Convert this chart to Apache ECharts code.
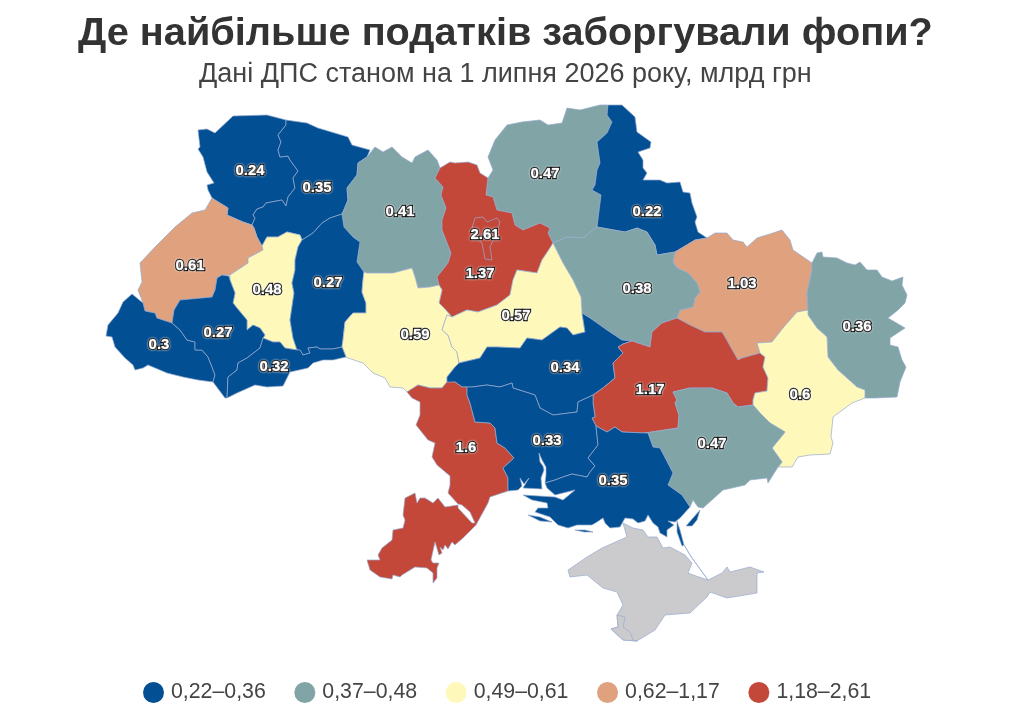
<!DOCTYPE html>
<html><head><meta charset="utf-8">
<style>html,body{margin:0;padding:0;background:#fff}#c{width:1021px;height:713px}</style>
<script src="https://cdn.jsdelivr.net/npm/echarts@6/dist/echarts.min.js"></script>
</head><body><div id="c"></div>
<script>
// ---- data ----
const titleText = 'Де найбільше податків заборгували фопи?';
const subtitleText = 'Дані ДПС станом на 1 липня 2026 року, млрд грн';
const regionNames = ['Волинська','Рівненська','Житомирська','Чернігівська','Сумська','Львівська','Тернопільська','Хмельницька','Київська','Харківська','Полтавська','Луганська','Закарпатська','Івано-Франківська','Вінницька','Черкаська','Чернівецька','Кіровоградська','Дніпропетровська','Донецька','Одеська','Миколаївська','Запорізька','Херсонська','Київ'];
// printed to two decimals; the third decimal is inferred from the colour class the region carries
const regionValues = [0.24,0.35,0.41,0.47,0.22,0.614,0.484,0.27,1.37,1.03,0.38,0.364,0.3,0.27,0.59,0.57,0.32,0.34,1.174,0.6,1.6,0.33,0.47,0.35,2.61];
const legendLabels = ['0,22–0,36','0,37–0,48','0,49–0,61','0,62–1,17','1,18–2,61'];
const legendHigh = [0.36,0.48,0.61,1.17,2.61];
const legendColors = ['#034f93','#81a4a6','#fef9bb','#e0a17e','#c4483a'];

// ---- map outline, traced as a base map (shared borders) ----
const arcs = {
volN:'286,120 267,115 233,116 215,133 207,129 198,130 200,147 198,149 203,157 207,172 214,183 207,185 208,190 212,198',
volRiv:'286,120 286,125 278,135 281,142 278,150 280,157 288,156 290,160 298,171 293,178 295,188 288,197 286,206 282,200 266,203 263,207 257,209 253,215 255,218 252,225',
volLviv:'212,198 215,200 228,208 227,215 243,222 252,225',
rivN:'286,120 307,123 318,128 348,137 352,145 370,150 367,157',
rivZhy:'367,157 358,163 357,175 347,188 348,200 343,212 342,214',
rivKhm:'342,214 330,218 322,223 313,233 302,240',
rivTer:'302,240 300,235 287,232 278,237 267,237 262,246',
rivLviv:'262,246 257,237 254,228 252,225',
lvivTer:'262,246 263,250 248,258 248,263 230,275 229,276',
lvivFr:'229,276 222,275 217,278 215,290 212,297 180,300 174,310 172,323',
lvivZak:'172,323 157,318 155,313 145,311 143,303',
lvivW:'143,303 138,290 142,282 140,263 155,247 175,227 192,213 205,210 212,198',
zakS:'143,303 132,294 123,302 118,313 108,325 106,336 112,337 115,347 125,358 133,365 135,370 143,368 148,365 167,373 183,377 198,380 213,382',
zakFr:'172,323 180,330 187,340 195,342 195,350 202,350 208,357 212,367 215,375 213,382',
terFr:'229,276 230,280 235,293 233,303 237,308 247,320 247,330 253,325 260,328 265,335 263,338',
frChe:'263,338 260,348 247,358 238,363 237,370 228,377 227,398',
frS:'227,398 225,398 213,382',
terChe:'263,338 273,342 280,342 285,348 297,350',
terKhm:'297,350 293,338 290,320 294,293 292,283 295,270 295,260 298,247 302,240',
cvKhm:'297,350 300,350 303,355 310,353 308,348 317,347 320,349 333,349 342,347',
cvVin:'342,347 346,357',
cvS:'346,357 333,360 323,360 313,363 308,368 290,372 283,386 267,387 255,385 237,393 227,398',
khmVin:'342,347 343,340 345,322 353,313 366,313 366,303 362,292 363,280 364,272',
khmZhy:'364,272 357,262 360,242 353,237 344,227 342,214',
zhyN:'367,157 375,147 383,152 392,147 402,157 412,163 415,157 428,150 437,160 440,168',
zhyKyiv:'440,168 435,178 443,187 441,195 446,208 442,220 442,230 451,253 448,263 437,277 439,285',
zhyVin:'439,285 430,287 418,288 415,277 412,268 393,273 367,273 364,272',
kyivN:'440,168 450,162 455,163 468,162 477,165 480,173 488,178',
kyivChn:'488,178 486,195 493,197 497,210 512,213 515,225 523,230 540,223 550,228 548,233 553,243',
kyivCk:'553,243 550,248 542,260 537,273 517,270 513,280 510,295 497,305 478,312 467,310 452,317',
kyivVin:'452,317 443,307 439,303 442,290 439,285',
chnN:'488,178 493,170 488,157 495,140 507,125 522,122 540,120 548,125 562,123 567,108 580,110 600,105 608,105',
chnSum:'608,105 607,115 612,122 607,133 597,142 600,163 597,170 595,185 592,190 601,195 597,227',
chnPol:'597,227 583,238 567,237 553,243',
sumN:'608,105 622,105 635,117 637,132 651,142 650,148 638,152 643,160 643,168 647,173 643,180 660,180 667,183 680,182 683,192 690,193 692,203 697,217 695,222 698,232 707,238',
sumKha:'707,238 695,240 675,252',
sumPol:'675,252 657,255 655,245 647,232 637,228 625,232 597,227',
khaN:'707,238 715,233 727,233 733,240 743,242 747,247 757,238 773,233 782,230 790,240 793,250 812,263',
khaLuh:'812,263 812,270 807,293 808,310',
khaDon:'808,310 797,312 783,328 772,342 757,343 760,353',
khaDnp:'760,353 742,358 738,360 725,337 722,332 705,332 690,325 677,318',
khaPol:'677,318 680,310 693,307 695,298 700,292 697,283 688,273 677,268 673,262 675,252',
luhE:'812,263 817,253 822,252 823,257 837,258 847,263 855,265 860,262 867,270 877,270 882,277 892,281 903,277 902,285 907,295 905,303 898,310 888,318 905,328 890,338 890,345 898,347 902,360 906,367 900,382 897,397 875,398 865,398',
luhDon:'865,398 865,390 857,387 838,370 828,357 827,337 817,328 808,315 808,310',
donS:'865,398 852,403 833,417 831,437 833,443 830,454 810,455 798,457 792,467 778,467',
donZap:'778,467 782,462 772,448 785,432 770,423 760,413 753,405',
donDnp:'753,405 753,400 755,393 767,391 768,378 763,367 765,357 760,353',
dnpZap:'753,405 738,407 733,403 727,393 712,388 690,388 673,392 677,400 675,403 679,415 678,428 645,433',
dnpKhe:'645,433 622,432 615,427 607,432 596,426',
dnpMyk:'596,426 592,418 595,417 593,403 593,395',
dnpKir:'593,395 603,388 615,378 613,363 623,353 618,347 623,344 632,341',
dnpPol:'632,341 650,347 652,332 662,323 677,318',
polKir:'632,341 622,340 607,330 590,318 582,313',
polCk:'582,313 581,297 573,280 563,263 553,243',
ckKir:'582,313 585,332 573,335 567,328 560,327 542,340 527,338 520,348 497,347 487,347 480,358 459,363',
ckVin:'459,363 457,352 452,347 448,335 442,330 447,315 452,317',
vinKir:'459,363 455,367 447,377 447,382',
vinOd:'447,382 442,388 430,388 418,385 407,392',
vinS:'407,392 403,388 390,387 385,378 373,373 363,363 348,358 346,357',
kirMyk:'593,395 578,402 577,412 553,415 540,408 535,395 513,388 512,383 500,387 487,385 472,387 467,387',
kirOd:'467,387 462,387 455,382 447,383 447,382',
odMyk:'467,387 467,395 470,403 475,422 490,423 495,428 497,443 505,448 514,458 503,468 508,478 508,491',
odW:'407,392 412,398 420,402 420,415 416,425 428,440 435,443 432,457 437,465 450,476 450,485 448,493 458,504 462,505 470,512 475,523 472,523 458,508 458,505 445,507 438,498 433,503 425,498 420,498 417,503 415,493 405,498 403,515 405,520 403,528 393,530 392,540 382,548 378,555 380,560 367,560 370,570 380,577 392,579 393,575 400,577 402,575 415,567 427,568 433,573 433,583 437,578 437,568 439,563 433,563 431,560 435,542 439,555 442,553 440,547 443,550 445,545 448,549 452,542 455,545 463,538 476,525 488,503 490,497 508,491',
mykKhe:'596,426 598,445 588,458 595,466 590,472 587,477 572,474 563,477 555,480 545,483',
mykCoast:'545,483 546,475 546,467 542,460 539,453 538,453 540,462 543,466 544,470 541,478 542,489 523,488 529,478 524,484 520,478 522,486 518,490 508,491',
zapKhe:'645,433 648,433 653,447 660,448 673,473 668,485 682,495 690,507',
zapCoast:'778,467 768,483 767,478 750,480 745,485 723,490 703,508 698,507 693,500 690,507',
kheCoast:'545,483 547,488 555,495 575,490 563,500 555,497 523,495 532,500 547,503 548,508 538,508 535,512 550,517 558,525 568,528 577,525 592,525 597,522 603,518 605,523 610,528 620,527 625,518 633,519 638,523 645,521 648,515 653,523 658,527 660,533 667,537 667,530 674,525 668,521 675,522 680,518 690,507'
};
const extraRings = {
spit1:'528,515 540,517 552,522 540,521',
spit2:'575,530 585,530 593,532 584,532',
arabat:'677,521 680,530 684,545 682,546 677,532',
arabatLine:'684,545 692,558 708,580 692,558',
azovBit:'686,526 693,518 700,510 697,520 692,526',
kyivCity:'475,218 483,217 487,222 497,218 500,222 497,232 490,247 492,260 485,259 482,243 475,237 472,228',
crimea:'623,523 627,537 602,548 587,557 568,570 570,577 587,575 603,588 617,592 623,605 617,615 618,627 611,629 623,640 637,641 655,630 665,615 690,613 707,597 710,592 727,598 757,593 757,573 764,572 750,567 730,572 727,567 722,573 708,580 693,575 688,573 692,563 685,555 670,547 663,548 657,537 648,537 643,530 633,528',
sevastopol:'617,615 625,617 623,627 630,632 633,640 637,641 623,640 611,629 618,627'
};
// name -> list of arcs, "-" means walk the arc backwards
const ringPlan = {
'Волинська':'volN volLviv -volRiv',
'Рівненська':'rivN rivZhy rivKhm rivTer rivLviv -volRiv',
'Житомирська':'zhyN zhyKyiv zhyVin khmZhy -rivZhy',
'Чернігівська':'chnN chnSum chnPol -kyivChn',
'Сумська':'sumN sumKha sumPol -chnSum',
'Львівська':'volLviv -rivLviv lvivTer lvivFr lvivZak lvivW',
'Тернопільська':'lvivTer terFr terChe terKhm rivTer',
'Хмельницька':'rivKhm -terKhm cvKhm khmVin khmZhy',
'Київська':'kyivN kyivChn kyivCk kyivVin -zhyKyiv',
'Харківська':'khaN khaLuh khaDon khaDnp khaPol -sumKha',
'Полтавська':'-chnPol -sumPol -khaPol -dnpPol polKir polCk',
'Луганська':'luhE luhDon -khaLuh',
'Закарпатська':'lvivZak zakS -zakFr',
'Івано-Франківська':'terFr frChe frS -zakFr -lvivFr',
'Вінницька':'-zhyVin -kyivVin -ckVin vinKir vinOd vinS -cvVin khmVin',
'Черкаська':'-kyivCk -polCk ckKir ckVin',
'Чернівецька':'terChe cvKhm cvVin cvS -frChe',
'Кіровоградська':'-vinKir -ckKir -polKir -dnpKir kirMyk kirOd',
'Дніпропетровська':'-khaDnp -donDnp dnpZap dnpKhe dnpMyk dnpKir dnpPol',
'Донецька':'-luhDon donS donZap donDnp -khaDon',
'Одеська':'odMyk -odW -vinOd -kirOd',
'Миколаївська':'-kirMyk -dnpMyk mykKhe mykCoast -odMyk',
'Запорізька':'-dnpZap -donZap zapCoast -zapKhe',
'Херсонська':'-dnpKhe zapKhe -kheCoast -mykKhe'
};
const labelAnchors = {
'Волинська':[250,171],'Рівненська':[317,188],'Житомирська':[400,212],'Чернігівська':[545,174],'Сумська':[647,212],
'Львівська':[190,266],'Тернопільська':[267,290],'Хмельницька':[328,283],'Київська':[480,274],'Харківська':[742,284],
'Полтавська':[637,289],'Луганська':[857,327],'Закарпатська':[159,345],'Івано-Франківська':[218,333],'Вінницька':[415,335],
'Черкаська':[516,316],'Чернівецька':[274,367],'Кіровоградська':[565,368],'Дніпропетровська':[650,390],'Донецька':[800,395],
'Одеська':[466,448],'Миколаївська':[547,441],'Запорізька':[712,444],'Херсонська':[613,481],'Київ':[485,235]
};

const pts = s => s.trim().split(/\s+/).map(p => { const [x, y] = p.split(',').map(Number); return [x, -y]; });
function buildRing(plan) {
  const out = [];
  plan.split(' ').forEach(tok => {
    const back = tok[0] === '-';
    const a = pts(arcs[back ? tok.slice(1) : tok]);
    if (back) a.reverse();
    a.forEach(p => { const l = out[out.length - 1]; if (!l || l[0] !== p[0] || l[1] !== p[1]) out.push(p); });
  });
  out.push(out[0].slice());
  return out;
}
const closed = s => { const a = pts(s); a.push(a[0].slice()); return a; };
const feature = (name, rings) => {
  const anchor = labelAnchors[name];
  return { type:'Feature', properties:{ name, cp: anchor ? [anchor[0], -anchor[1]] : undefined },
    geometry:{ type:'MultiPolygon', coordinates: rings.map(r => [r]) } };
};
const features = Object.keys(ringPlan).map(n => {
  const rings = [buildRing(ringPlan[n])];
  if (n === 'Херсонська') ['spit1','spit2','arabat','arabatLine','azovBit'].forEach(k => rings.push(closed(extraRings[k])));
  return feature(n, rings);
});
features.push(feature('Крим', [closed(extraRings.crimea)]));
features.push(feature('Севастополь', [closed(extraRings.sevastopol)]));
features.push(feature('Київ', [closed(extraRings.kyivCity)]));
echarts.registerMap('ua', { type:'FeatureCollection', features });

const chart = echarts.init(document.getElementById('c'), null, { renderer:'canvas' });
const FONT = '"Liberation Sans", Arial, sans-serif';
chart.setOption({
  animation:false,
  backgroundColor:'#fff',
  title:[
    { text:titleText, left:73, top:9, textStyle:{ fontFamily:FONT, fontWeight:'bold', fontSize:39.7, color:'#333' } },
    { text:subtitleText, left:194, top:56, textStyle:{ fontFamily:FONT, fontWeight:'normal', fontSize:27, color:'#444' } }
  ],
  visualMap:{
    type:'piecewise', orient:'horizontal', left:143, top:682, padding:0,
    itemWidth:21, itemHeight:21, itemGap:28.6, textGap:7, itemSymbol:'circle',
    seriesIndex:0, hoverLink:false, selectedMode:false,
    textStyle:{ fontFamily:FONT, fontSize:21.3, color:'#444' },
    pieces: legendLabels.map((label,i) => (i === 0
      ? { lte:legendHigh[0], label, color:legendColors[0] }
      : { gt:legendHigh[i-1], lte:legendHigh[i], label, color:legendColors[i] }))
  },
  series:[{
    type:'map', map:'ua', silent:true, selectedMode:false,
    aspectScale:1, boundingCoords:[[0,0],[1021,-713]], layoutCenter:['50%','50%'], layoutSize:1021,
    itemStyle:{ areaColor:'#cbcbcd', borderColor:'#97abd0', borderWidth:0.7 },
    emphasis:{ disabled:true },
    label:{ show:true, fontFamily:FONT, fontWeight:'bold', fontSize:15, color:'#fff',
      textBorderColor:'#000', textBorderWidth:2.4, textShadowColor:'rgba(255,255,255,0.9)', textShadowBlur:2,
      formatter: p => (p.value === undefined || isNaN(p.value)) ? '' : String(+p.value.toFixed(2)) },
    data: regionNames.map((name,i) => ({ name, value:regionValues[i] }))
  }]
});
</script></body></html>
